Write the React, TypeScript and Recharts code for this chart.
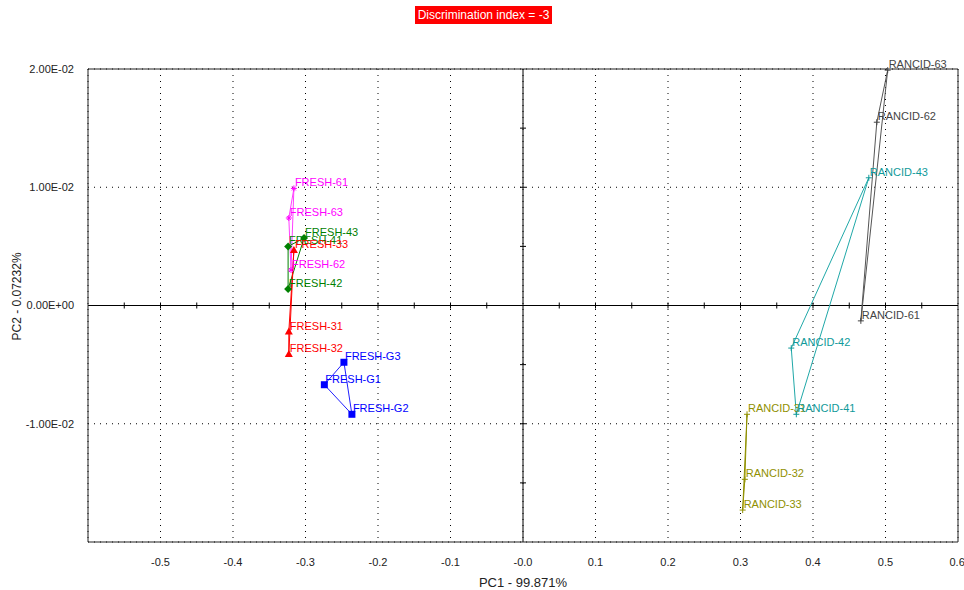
import { CartesianGrid, ReferenceLine, Scatter, ScatterChart, XAxis, YAxis } from 'recharts'

const fresh6 = [
  { name: 'FRESH-61', x: -0.316, y: 0.0099 },
  { name: 'FRESH-63', x: -0.323, y: 0.0074 },
  { name: 'FRESH-62', x: -0.32, y: 0.003 },
]
const fresh4 = [
  { name: 'FRESH-41', x: -0.324, y: 0.005 },
  { name: 'FRESH-43', x: -0.302, y: 0.0057 },
  { name: 'FRESH-42', x: -0.324, y: 0.0014 },
]
const fresh3 = [
  { name: 'FRESH-33', x: -0.316, y: 0.0047 },
  { name: 'FRESH-31', x: -0.323, y: -0.0022 },
  { name: 'FRESH-32', x: -0.323, y: -0.0041 },
]
const freshG = [
  { name: 'FRESH-G3', x: -0.247, y: -0.0048 },
  { name: 'FRESH-G1', x: -0.274, y: -0.0067 },
  { name: 'FRESH-G2', x: -0.236, y: -0.0092 },
]
const rancid3 = [
  { name: 'RANCID-31', x: 0.309, y: -0.0092 },
  { name: 'RANCID-32', x: 0.306, y: -0.0147 },
  { name: 'RANCID-33', x: 0.303, y: -0.0173 },
]
const rancid4 = [
  { name: 'RANCID-43', x: 0.477, y: 0.0108 },
  { name: 'RANCID-42', x: 0.37, y: -0.0036 },
  { name: 'RANCID-41', x: 0.377, y: -0.0092 },
]
const rancid6 = [
  { name: 'RANCID-61', x: 0.466, y: -0.0013 },
  { name: 'RANCID-62', x: 0.488, y: 0.0155 },
  { name: 'RANCID-63', x: 0.503, y: 0.0199 },
]

const xTicks = [-0.5, -0.4, -0.3, -0.2, -0.1, 0, 0.1, 0.2, 0.3, 0.4, 0.5, 0.6]
const yTicks = [-0.01, 0, 0.01, 0.02]
const xMinor = [-0.55, -0.5, -0.45, -0.4, -0.35, -0.3, -0.25, -0.2, -0.15, -0.1, -0.05, 0.05, 0.1, 0.15, 0.2, 0.25, 0.3, 0.35, 0.4, 0.45, 0.5, 0.55]
const yMinor = [-0.015, -0.01, -0.005, 0.005, 0.01, 0.015]

type Marker = 'star' | 'diamond' | 'triangle' | 'square' | 'plus'

const groups: { data: typeof fresh6; color: string; line: string; marker: Marker }[] = [
  { data: fresh6, color: '#ff00ff', line: '#ff40ff', marker: 'star' },
  { data: fresh4, color: '#008000', line: '#008000', marker: 'diamond' },
  { data: fresh3, color: '#ff0000', line: '#ff0000', marker: 'triangle' },
  { data: freshG, color: '#0000ff', line: '#2020ff', marker: 'square' },
  { data: rancid3, color: '#909000', line: '#909000', marker: 'plus' },
  { data: rancid4, color: '#109a9a', line: '#20a8a8', marker: 'plus' },
  { data: rancid6, color: '#444444', line: '#555555', marker: 'plus' },
]

const font = "'Liberation Sans', Arial, sans-serif"

function drawMarker(m: Marker, cx: number, cy: number, c: string) {
  if (m === 'star')
    return (
      <g stroke={c} strokeWidth={1}>
        <line x1={cx - 3} y1={cy} x2={cx + 3} y2={cy} />
        <line x1={cx} y1={cy - 3} x2={cx} y2={cy + 3} />
        <line x1={cx - 2} y1={cy - 2} x2={cx + 2} y2={cy + 2} />
        <line x1={cx - 2} y1={cy + 2} x2={cx + 2} y2={cy - 2} />
      </g>
    )
  if (m === 'diamond')
    return <polygon points={`${cx},${cy - 4} ${cx + 4},${cy} ${cx},${cy + 4} ${cx - 4},${cy}`} fill={c} />
  if (m === 'triangle')
    return <polygon points={`${cx},${cy - 4} ${cx + 4},${cy + 3} ${cx - 4},${cy + 3}`} fill={c} />
  if (m === 'square') return <rect x={cx - 3.5} y={cy - 3.5} width={7} height={7} fill={c} />
  return (
    <g stroke={c} strokeWidth={1}>
      <line x1={cx - 3} y1={cy} x2={cx + 3} y2={cy} />
      <line x1={cx} y1={cy - 3} x2={cx} y2={cy + 3} />
    </g>
  )
}

const nothing = () => <g />

const tickV = (p: any) => (
  <line x1={p.cx} y1={p.cy - 3} x2={p.cx} y2={p.cy + 3} stroke="#000" strokeWidth={1} />
)
const tickH = (p: any) => (
  <line x1={p.cx - 3} y1={p.cy} x2={p.cx + 3} y2={p.cy} stroke="#000" strokeWidth={1} />
)

function fmtY(v: number) {
  if (v === 0) return '0.00E+00'
  const e = Math.floor(Math.log10(Math.abs(v)) + 1e-9)
  const m = v / Math.pow(10, e)
  const es = (e < 0 ? '-' : '+') + String(Math.abs(e)).padStart(2, '0')
  return `${m.toFixed(2)}E${es}`
}

export default function App() {
  return (
    <div style={{ position: 'absolute', left: 0, top: 0, width: 964, height: 590, background: '#fff', fontFamily: font }}>
      <div
        style={{
          position: 'absolute', left: 415, top: 6, width: 137, height: 18, background: '#ff0000', color: '#fff',
          fontSize: 12, lineHeight: '18px', textAlign: 'center', zIndex: 2,
        }}
      >
        Discrimination index = -3
      </div>
      <ScatterChart width={964} height={590} margin={{ top: 69, right: 6, left: 0, bottom: 0 }}>
        <CartesianGrid stroke="#000" strokeDasharray="1 5" />
        <XAxis
          type="number" dataKey="x" domain={[-0.6, 0.6]} ticks={xTicks} height={48}
          tickFormatter={(v: number) => (v === 0 ? '-0.0' : v.toFixed(1))}
          tick={{ fontSize: 11, fill: '#222', fontFamily: font }} tickLine={false} tickMargin={10}
          axisLine={{ stroke: '#222' }}
          label={{ value: 'PC1 - 99.871%', position: 'insideBottom', offset: 3, fontSize: 13, fill: '#222', fontFamily: font }}
        />
        <YAxis
          type="number" dataKey="y" domain={[-0.02, 0.02]} ticks={yTicks} width={88}
          tickFormatter={fmtY} tick={{ fontSize: 11, fill: '#222', fontFamily: font }} tickLine={false} tickMargin={8}
          axisLine={{ stroke: '#222' }}
          label={{ value: 'PC2 - 0.07232%', angle: -90, position: 'insideLeft', offset: 17, dy: 35, fontSize: 12, fill: '#222', fontFamily: font }}
        />
        <ReferenceLine x={0.6} stroke="#222" />
        <ReferenceLine y={0.02} stroke="#222" />
        <ReferenceLine x={0} stroke="#000" />
        <ReferenceLine y={0} stroke="#000" />
        <Scatter data={xMinor.map((x) => ({ x, y: 0 }))} shape={tickV} isAnimationActive={false} />
        <Scatter data={yMinor.map((y) => ({ x: 0, y }))} shape={tickH} isAnimationActive={false} />
        {groups.map((g, i) => (
          <Scatter
            key={'l' + i}
            data={[...g.data, g.data[0]]}
            fill={g.line}
            line={{ stroke: g.line, strokeWidth: 1 }}
            shape={nothing}
            isAnimationActive={false}
          />
        ))}
        {groups.map((g, i) => (
          <Scatter
            key={'m' + i}
            data={g.data}
            fill={g.color}
            isAnimationActive={false}
            shape={(p: any) => (
              <g>
                {drawMarker(g.marker, p.cx, p.cy, g.color)}
                <text x={p.cx + 1} y={p.cy - 6} dominantBaseline="central" fontSize={11} fill={g.color} fontFamily={font}>
                  {p.payload.name}
                </text>
              </g>
            )}
          />
        ))}
      </ScatterChart>
    </div>
  )
}
